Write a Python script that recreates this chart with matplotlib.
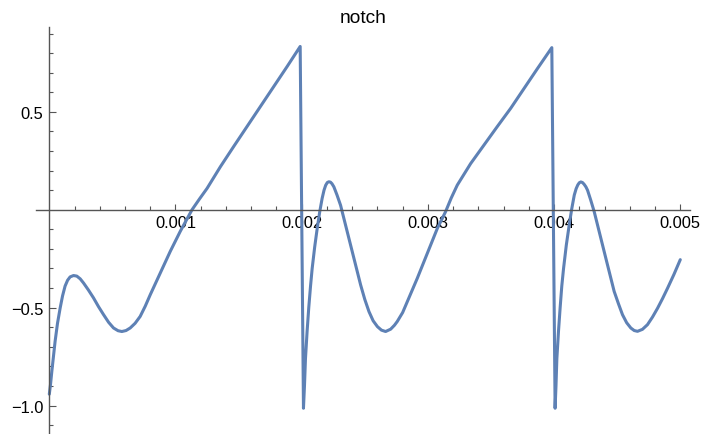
import matplotlib
matplotlib.use("Agg")
import matplotlib.pyplot as plt
from matplotlib.ticker import FixedLocator, NullFormatter

plt.rcParams['font.family'] = ['Liberation Sans', 'DejaVu Sans']

# ---- data (time in s, amplitude) ----
t_vals = [
    0.0, 0.00001, 0.00002, 0.000033, 0.000046, 0.000065, 0.000086, 0.000105,
    0.000125, 0.000145, 0.000165, 0.000192, 0.000218, 0.000245, 0.000271,
    0.00031, 0.00035, 0.00039, 0.000429, 0.00047, 0.000509, 0.000545,
    0.000575, 0.000608, 0.000641, 0.00068, 0.00072, 0.00076, 0.0008,
    0.00084, 0.000879, 0.000959, 0.001038, 0.001085, 0.001131, 0.00119,
    0.00125, 0.001356, 0.001461, 0.001567, 0.001673, 0.001779, 0.001885,
    0.001988, 0.002014,
    0.002022, 0.00203, 0.002043, 0.002056, 0.00207, 0.002083, 0.002103,
    0.002123, 0.002143, 0.002162, 0.002177, 0.00219, 0.002203, 0.002215,
    0.002228, 0.00224, 0.002255, 0.00228, 0.002308, 0.002361, 0.002414,
    0.002467, 0.0025, 0.002533, 0.002566, 0.0026, 0.002632, 0.002665,
    0.002705, 0.002735, 0.002757, 0.0028, 0.002837, 0.002916, 0.002995,
    0.003075, 0.00314, 0.003185, 0.003233, 0.003339, 0.003444, 0.00355,
    0.003656, 0.003762, 0.003868, 0.003982, 0.004008,
    0.004015, 0.004022, 0.004035, 0.004048, 0.004061, 0.004075, 0.004097,
    0.00412, 0.00414, 0.00416, 0.004175, 0.004188, 0.0042, 0.004212,
    0.004225, 0.004238, 0.004252, 0.004265, 0.00429, 0.004318, 0.00437,
    0.004423, 0.004476, 0.00451, 0.004542, 0.004575, 0.004608, 0.004635,
    0.004661, 0.0047, 0.00474, 0.00478, 0.00482, 0.00486, 0.004899,
    0.00495, 0.005,
]
y_vals = [
    -0.942, -0.89, -0.826, -0.75, -0.672, -0.58, -0.502, -0.44,
    -0.39, -0.36, -0.343, -0.336, -0.339, -0.353, -0.374,
    -0.41, -0.45, -0.495, -0.535, -0.575, -0.604, -0.618,
    -0.622, -0.617, -0.604, -0.58, -0.545, -0.493, -0.434,
    -0.378, -0.323, -0.212, -0.110, -0.055, 0.0, 0.055,
    0.109, 0.22, 0.323, 0.425, 0.528, 0.63, 0.732,
    0.834, -1.014,
    -0.90, -0.76, -0.62, -0.50, -0.39, -0.30, -0.19,
    -0.095, -0.01, 0.058, 0.100, 0.125, 0.139, 0.143,
    0.141, 0.133, 0.117, 0.075, 0.023, -0.113, -0.248,
    -0.384, -0.458, -0.52, -0.567, -0.597, -0.615, -0.622,
    -0.610, -0.59, -0.571, -0.525, -0.469, -0.35, -0.223,
    -0.095, -0.01, 0.06, 0.126, 0.236, 0.33, 0.425,
    0.518, 0.62, 0.721, 0.828, -1.014,
    -0.90, -0.76, -0.62, -0.50, -0.39, -0.30, -0.18,
    -0.077, 0.005, 0.075, 0.108, 0.127, 0.138, 0.142,
    0.139, 0.13, 0.117, 0.1, 0.05, -0.01, -0.145,
    -0.281, -0.417, -0.48, -0.536, -0.577, -0.604, -0.617,
    -0.621, -0.611, -0.587, -0.548, -0.503, -0.453, -0.401,
    -0.33, -0.255,
]

x_major = [0.001, 0.002, 0.003, 0.004, 0.005]
x_major_labels = ["0.001", "0.002", "0.003", "0.004", "0.005"]
x_minor = [0.0002, 0.0004, 0.0006, 0.0008, 0.0012, 0.0014, 0.0016, 0.0018,
           0.0022, 0.0024, 0.0026, 0.0028, 0.0032, 0.0034, 0.0036, 0.0038,
           0.0042, 0.0044, 0.0046, 0.0048]
y_major = [-1.0, -0.5, 0.5]
y_major_labels = ["\u22121.0", "\u22120.5", "0.5"]
y_minor = [-1.1, -0.9, -0.8, -0.7, -0.6, -0.4, -0.3, -0.2, -0.1,
           0.1, 0.2, 0.3, 0.4, 0.6, 0.7, 0.8, 0.9]
title = "notch"

W, H = 704, 435
fig = plt.figure(figsize=(W / 100, H / 100), dpi=100)
left_px, right_px, top_px, bottom_px = 36, 690, 27.7, 435
ax = fig.add_axes([left_px / W, 1 - bottom_px / H,
                   (right_px - left_px) / W, (bottom_px - top_px) / H])

ax.plot(t_vals, y_vals, color=(0.368417, 0.506779, 0.709798), lw=2.2,
        solid_joinstyle='round', solid_capstyle='round', clip_on=True)

ax.set_xlim(-0.0001054, 0.005077)
ax.set_ylim(-1.1455, 0.935)

for s in ['top', 'right']:
    ax.spines[s].set_visible(False)
ax.spines['left'].set_position(('data', 0))
ax.spines['bottom'].set_position(('data', 0))
axis_col = '#555555'
for s in ['left', 'bottom']:
    ax.spines[s].set_color(axis_col)
    ax.spines[s].set_linewidth(1.0)

ax.xaxis.set_major_locator(FixedLocator(x_major))
ax.set_xticklabels(x_major_labels)
ax.xaxis.set_minor_locator(FixedLocator(x_minor))
ax.xaxis.set_minor_formatter(NullFormatter())
ax.yaxis.set_major_locator(FixedLocator(y_major))
ax.set_yticklabels(y_major_labels)
ax.yaxis.set_minor_locator(FixedLocator(y_minor))
ax.yaxis.set_minor_formatter(NullFormatter())

ax.tick_params(axis='x', which='major', direction='in', length=4.5, width=0.8,
               color=axis_col, labelsize=11.9, pad=4.0, labelcolor='black')
ax.tick_params(axis='x', which='minor', direction='in', length=2.9, width=0.8,
               color=axis_col)
ax.tick_params(axis='y', which='major', direction='in', length=5.3, width=0.8,
               color=axis_col, labelsize=11.9, pad=4.5, labelcolor='black')
ax.tick_params(axis='y', which='minor', direction='in', length=2.9, width=0.8,
               color=axis_col)
ax.patch.set_visible(False)

fig.text(363 / W, 1 - 23.3 / H, title, ha='center', va='baseline',
         fontsize=13.8, color='black')

fig.savefig("out.png", dpi=100)
